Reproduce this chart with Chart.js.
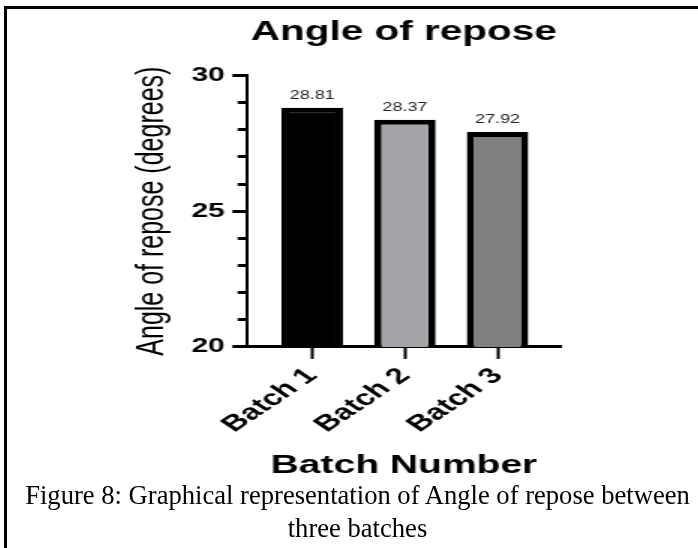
<!DOCTYPE html>
<html>
<head>
<meta charset="utf-8">
<script src="https://cdn.jsdelivr.net/npm/chart.js@4.4.1/dist/chart.umd.min.js"></script>
<style>
  html, body { margin: 0; padding: 0; background: #fff; overflow: hidden; }
  body { width: 698px; height: 548px; position: relative; }
  .frame { position: absolute; left: 4px; top: 6px; width: 720px; height: 560px; border-top: 3px solid #000; border-left: 3px solid #000; }
  /* the source figure is stretched sideways, so the canvas is too */
  .plot { position: absolute; left: 130px; top: 10px; transform: scaleX(1.5); transform-origin: 0 0; }
  .caption { position: absolute; left: 0; width: 715px; top: 479px; text-align: center; font-family: "Liberation Serif", "Times New Roman", serif; font-size: 26.6px; line-height: 33px; color: #000; }
</style>
</head>
<body>
<div class="frame"></div>
<div class="plot"><canvas id="chart" width="300" height="474"></canvas></div>
<div class="caption">Figure 8: Graphical representation of Angle of repose between<br>three batches</div>
<script>
const BATCH_LABELS = ['Batch 1', 'Batch 2', 'Batch 3'];
const REPOSE_ANGLES = [28.81, 28.37, 27.92];
const BAR_COLORS = ['#000000', '#a4a4a8', '#808080'];
const Y_LABELLED_TICKS = [20, 25, 30];

Chart.defaults.font.family = '"Liberation Sans", Arial, sans-serif';
Chart.defaults.color = '#000';

// value printed above each bar
const barValueLabels = {
  id: 'barValueLabels',
  afterDatasetsDraw(chart) {
    const ctx = chart.ctx;
    const meta = chart.getDatasetMeta(0);
    ctx.save();
    ctx.font = '12px "Liberation Sans", Arial, sans-serif';
    ctx.fillStyle = '#222';
    ctx.textAlign = 'center';
    ctx.textBaseline = 'bottom';
    meta.data.forEach((bar, i) => {
      ctx.fillText(REPOSE_ANGLES[i].toFixed(2), bar.x, bar.y - 6);
    });
    ctx.restore();
  }
};

new Chart(document.getElementById('chart'), {
  type: 'bar',
  data: {
    datasets: [{
      data: REPOSE_ANGLES.map((v, i) => ({ x: i + 1, y: v })),
      backgroundColor: BAR_COLORS,
      borderColor: '#000',
      borderWidth: 5,
      categoryPercentage: 1,
      barPercentage: 0.664
    }]
  },
  options: {
    responsive: false,
    animation: false,
    layout: { padding: { left: 0, right: 13, top: 0, bottom: 0 } },
    plugins: {
      legend: { display: false },
      tooltip: { enabled: false },
      title: {
        display: true,
        text: 'Angle of repose',
        fullSize: false,
        color: '#000',
        font: { size: 27, weight: 'bold' },
        padding: { top: 6, bottom: 27 }
      }
    },
    scales: {
      x: {
        type: 'linear',
        min: 0.3,
        max: 3.68,
        offset: false,
        afterBuildTicks: (axis) => { axis.ticks = BATCH_LABELS.map((_, i) => ({ value: i + 1 })); },
        ticks: {
          callback: (v) => BATCH_LABELS[Math.round(v) - 1],
          minRotation: 45,
          maxRotation: 45,
          autoSkip: false,
          padding: 4,
          color: '#000',
          font: { size: 22, weight: 'bold' }
        },
        grid: { offset: false, drawOnChartArea: false, tickLength: 12, tickWidth: 2, tickColor: '#000' },
        border: { color: '#000', width: 3 },
        title: {
          display: true,
          text: 'Batch Number',
          color: '#000',
          font: { size: 26, weight: 'bold' },
          padding: { top: 8, bottom: 3 }
        }
      },
      y: {
        min: 20,
        max: 30,
        beginAtZero: false,
        ticks: {
          stepSize: 1,
          autoSkip: false,
          padding: 5,
          color: '#000',
          font: { size: 20, weight: 'bold' },
          callback: (v) => Y_LABELLED_TICKS.includes(v) ? String(v) : ''
        },
        grid: {
          drawOnChartArea: false,
          tickLength: 10,
          tickWidth: 3,
          tickColor: '#000',
          // minor ticks are shorter: skip the outer part of the line
          tickBorderDash: (ctx) => (ctx.tick && ctx.tick.value % 5 !== 0) ? [0, 3.5, 20, 0] : []
        },
        border: { color: '#000', width: 2 },
        title: {
          display: true,
          text: 'Angle of repose (degrees)',
          color: '#000',
          font: { size: 25 },
          padding: { top: 0, bottom: 6 }
        }
      }
    }
  },
  plugins: [barValueLabels]
});
</script>
</body>
</html>
